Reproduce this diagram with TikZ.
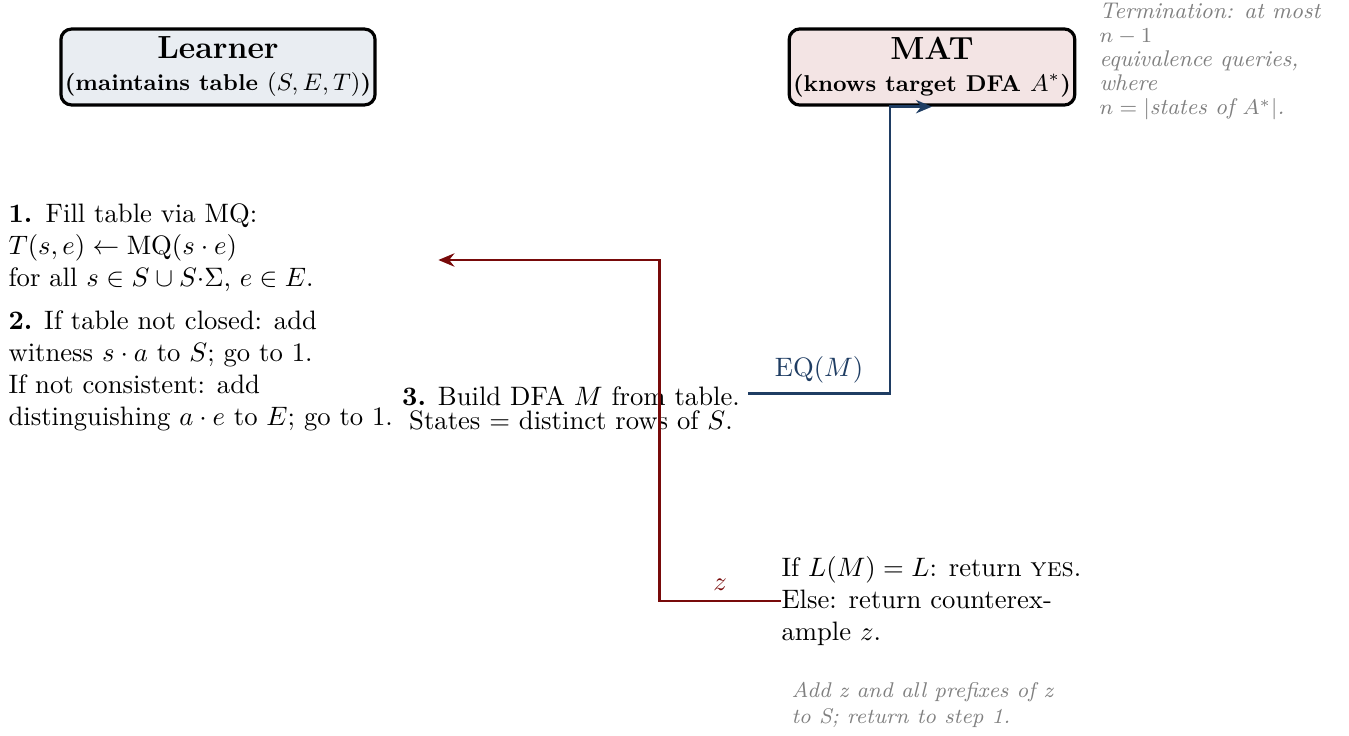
\documentclass[tikz,border=0pt]{standalone}
\usepackage{tikz}
\usepackage{amsmath}
\usetikzlibrary{arrows.meta,calc,positioning}
\definecolor{LstarLearnerFill}{HTML}{E9EDF2}
\definecolor{LstarMatFill}{HTML}{F3E4E4}
\definecolor{LstarBlue}{HTML}{1F3D63}
\definecolor{LstarRed}{HTML}{780A0A}
\definecolor{LstarNote}{HTML}{808080}

\begin{document}
\begin{tikzpicture}[x=0.375pt,y=-0.375pt,
    agent/.style={draw=black,line width=1.2pt,rounded corners=4pt,
      align=center,inner xsep=1.5pt,inner ysep=3pt,font=\bfseries},
    stepnode/.style={align=left,inner sep=0pt},
    aside/.style={align=left,inner sep=0pt,text=LstarNote},
    query/.style={line width=0.9pt,-{Stealth[length=6pt,width=5pt]}}]
        \useasboundingbox (0,0) rectangle (1349,736);

        % the two parties
        \node[agent,fill=LstarLearnerFill] (learner) at (218,67)
          {{\large Learner}\\{\fontsize{8.6}{10}\selectfont
           (maintains table $(S,E,T)$)}};
        \node[agent,fill=LstarMatFill] (mat) at (932,67)
          {{\large MAT}\\{\fontsize{8.6}{10}\selectfont
           (knows target DFA $A^*$)}};

        \node[aside,anchor=north west,
          font=\fontsize{8.5}{9}\selectfont\itshape] (bound) at (1099,3)
          {Termination: at most\\ $n-1$\\ equivalence queries,\\ where\\
           $n=|$states of $A^*|$.};

        % learner steps
        \node[stepnode,anchor=west,text width=161pt] (fill) at (8,248)
          {\textbf{1.} Fill table via MQ:\\
           $T(s,e)\leftarrow\mathrm{MQ}(s\cdot e)$\\
           for all $s\in S\cup S{\cdot}\Sigma$, $e\in E$.};
        \node[stepnode,anchor=west] (repair) at (8,371)
          {\textbf{2.} If table not closed: add\\
           witness $s\cdot a$ to $S$; go to 1.\\
           If not consistent: add\\
           distinguishing $a\cdot e$ to $E$; go to 1.};
        \node[align=center,inner sep=3pt] (build) at (571,408)
          {\textbf{3.} Build DFA $M$ from table.\\[-3pt]
           States $=$ distinct rows of $S$.};

        % teacher answer
        \node[stepnode,anchor=west] (answer) at (781,601)
          {If $L(M)=L$: return \textsc{yes}.\\
           Else: return counterex-\\
           ample $z$.};
        \node[aside,anchor=north west,font=\footnotesize\itshape]
          (update) at (791,682)
          {Add z and all prefixes of z\\ to S; return to step 1.};

        % queries
        \path (mat.south) ++(-42,0) coordinate (eqbend);
        \path ([yshift=-4.5pt]fill.east) coordinate (zend);
        \path (zend) ++(221,0) coordinate (zbend);

        \draw[query,LstarBlue] ([yshift=5.5pt]build.east) -|
          node[above,pos=0.25] (eqlabel) {EQ$(M)$} (eqbend) -- (mat.south);
        \draw[query,LstarRed] (answer.west) -|
          node[above,pos=0.25] (zlabel) {$z$} (zbend) -- (zend);
      \end{tikzpicture}
\end{document}
